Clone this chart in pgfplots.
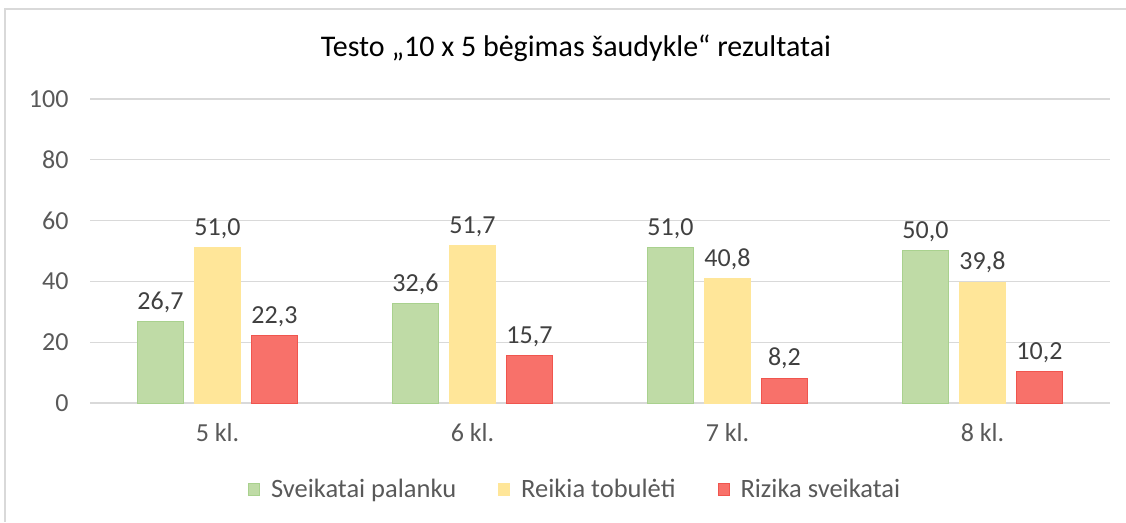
\documentclass[border=0pt]{standalone}
\usepackage{fontspec}
\setmainfont{Carlito}
\usepackage{pgfplots}
\usepackage{pgfplotstable}
\pgfplotsset{compat=1.18}

\definecolor{cgreen}{HTML}{BFDBA6}
\definecolor{cgreenb}{HTML}{A9D18E}
\definecolor{cyellow}{HTML}{FFE699}
\definecolor{cred}{HTML}{F8716A}
\definecolor{credb}{HTML}{F0554E}
\definecolor{cgrid}{HTML}{D9D9D9}
\definecolor{ctext}{HTML}{595959}
\definecolor{clabel}{HTML}{404040}

\pgfplotstableread{
x g y r
0 26.7 51.0 22.3
1 32.6 51.7 15.7
2 51.0 40.8 8.2
3 50.0 39.8 10.2
}\data

\begin{document}
\begin{tikzpicture}[x=1pt,y=1pt]
\path[use as bounding box] (0,0) rectangle (1126,522);
\draw[cgrid, line width=1.5pt] (5,0) -- (5,513) -- (1126,513);
\node[font=\fontsize{30}{36}\selectfont, text=black] at (576,474) {Testo „10 x 5 bėgimas šaudykle“ rezultatai};
\begin{axis}[
  at={(90pt,119pt)}, anchor=south west,
  scale only axis, width=1020pt, height=304pt,
  xmin=-0.5, xmax=3.5, ymin=0, ymax=100,
  ybar=11pt, bar width=46pt,
  xtick={0,1,2,3}, xticklabels={5 kl.,6 kl.,7 kl.,8 kl.},
  ytick={0,20,...,100},
  major tick length=0pt,
  axis y line*=left,
  y axis line style={draw=none},
  axis x line*=bottom,
  x axis line style={cgrid, line width=1.3pt, -},
  ymajorgrids, grid style={cgrid, line width=1.3pt},
  tick label style={font=\fontsize{26}{31}\selectfont, text=ctext},
  xticklabel style={yshift=-17pt},
  yticklabel style={xshift=-18pt},
  /pgf/number format/assume math mode=true,
  nodes near coords,
  nodes near coords style={font=\fontsize{26}{31}\selectfont, text=clabel, yshift=5pt,
    /pgf/number format/.cd, fixed, fixed zerofill, precision=1, use comma, assume math mode=true},
  legend style={at={(0.456,-0.283)}, anchor=center, draw=none, fill=none,
    font=\fontsize{26.5}{31}\selectfont, text=ctext, legend columns=-1},
  legend image code/.code={\draw[#1, line width=0.5pt] (0pt,-6pt) rectangle (11pt,6pt);
    \path (-40pt,0pt) (20pt,0pt);},
]
\addplot[fill=cgreen, draw=cgreenb, line width=1pt] table[x=x, y=g] {\data};
\addlegendentry{Sveikatai palanku}
\addplot[fill=cyellow, draw=cyellow, line width=1pt] table[x=x, y=y] {\data};
\addlegendentry{Reikia tobulėti}
\addplot[fill=cred, draw=credb, line width=1pt] table[x=x, y=r] {\data};
\addlegendentry{Rizika sveikatai}
\end{axis}
\end{tikzpicture}
\end{document}
